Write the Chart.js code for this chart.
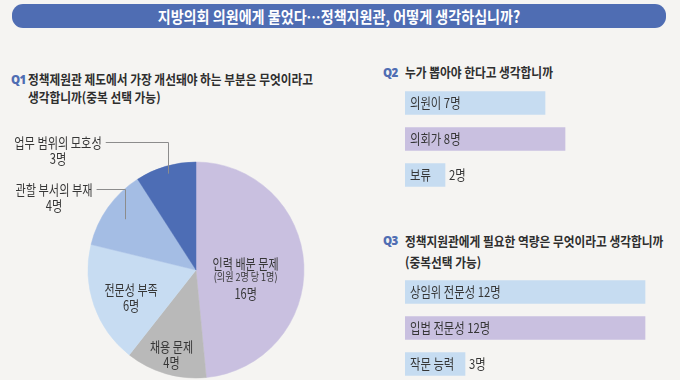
<!DOCTYPE html>
<html><head><meta charset="utf-8">
<script src="https://cdn.jsdelivr.net/npm/chart.js@4"></script>
<style>
html,body{margin:0;padding:0;}
body{width:680px;height:380px;background:#f5f4f2;position:relative;overflow:hidden;font-family:'Noto Sans CJK KR','Noto Sans',sans-serif;color:#333;}
.t{position:absolute;white-space:nowrap;transform-origin:0 50%;line-height:1;}
#bar{position:absolute;left:12px;top:4px;width:654px;height:24px;background:#4f6db3;border-radius:11px;}
#title{position:absolute;left:12px;top:4px;width:654px;height:24px;line-height:24px;text-align:center;color:#fff;font-size:16px;font-weight:700;white-space:nowrap;}
#title span{display:inline-block;transform:scaleX(0.88);}
.q{color:#4f6db3;font-weight:800;font-family:'Open Sans','Liberation Sans',sans-serif;font-size:11.5px;letter-spacing:-0.6px;}
.h{font-size:13px;font-weight:700;transform:scaleX(0.9);color:#2e2e2e;}
canvas{position:absolute;}
</style></head>
<body>
<div id="bar"></div>
<div id="title"><span>지방의회 의원에게 물었다…정책지원관, 어떻게 생각하십니까?</span></div>

<div class="t q" style="left:11px;top:73.5px;">Q1</div>
<div class="t h" style="left:28px;top:72px;">정책제원관 제도에서 가장 개선돼야 하는 부분은 무엇이라고</div>
<div class="t h" style="left:28px;top:90px;">생각합니까(중복 선택 가능)</div>

<div class="t q" style="left:383px;top:67px;">Q2</div>
<div class="t h" style="left:405px;top:65px;">누가 뽑아야 한다고 생각합니까</div>

<div class="t q" style="left:383px;top:235px;">Q3</div>
<div class="t h" style="left:405px;top:234px;">정책지원관에게 필요한 역량은 무엇이라고 생각합니까</div>
<div class="t h" style="left:405px;top:255px;">(중복선택 가능)</div>

<canvas id="pie" width="392" height="270" style="left:0;top:110px;"></canvas>
<canvas id="q2" width="260" height="108" style="left:405px;top:85px;"></canvas>
<canvas id="q3" width="260" height="108" style="left:405px;top:274px;"></canvas>

<script>
// ---- data ----
const pieLabels = ['인력 배분 문제', '채용 문제', '전문성 부족', '관할 부서의 부재', '업무 범위의 모호성'];
const pieValues = [16, 4, 6, 4, 3];
const pieNotes = ['(의원 2명 당 1명)', '', '', '', ''];
const q2Labels = ['의원이', '의회가', '보류'];
const q2Values = [7, 8, 2];
const q3Labels = ['상임위 전문성', '입법 전문성', '작문 능력'];
const q3Values = [12, 12, 3];
const unit = '명';

// ---- styles ----
const FONT = "'Noto Sans CJK KR','Noto Sans',sans-serif";
const TXT = '#363636';
const pieColors = ['#c9c0e0', '#b9b9b9', '#c7dcf2', '#a4bde4', '#4d6db5'];
const barColors = ['#c6dcf1', '#c9c0e0', '#c6dcf1'];
const pieLabelStyle = [
  {mode: 'in', rf: 0.46, dy: 11},
  {mode: 'in', rf: 0.806, dy: 1},
  {mode: 'in', rf: 0.636, dy: 5},
  {mode: 'out', rf: 0.81, tx: -142, ty: -80},
  {mode: 'out', rf: 0.93, tx: -138, ty: -127}
];

function txt(ctx, s, x, y, size, sx, align) {
  ctx.save();
  ctx.font = size + 'px ' + FONT;
  ctx.textBaseline = 'middle';
  ctx.fillStyle = TXT;
  ctx.textAlign = align || 'center';
  ctx.translate(x, y);
  ctx.scale(sx, 1);
  ctx.fillText(s, 0, 0);
  const w = ctx.measureText(s).width * sx;
  ctx.restore();
  return w;
}

const pieLabelPlugin = {
  id: 'pieLabels',
  afterDatasetsDraw(chart) {
    const ctx = chart.ctx;
    const arcs = chart.getDatasetMeta(0).data;
    arcs.forEach((arc, i) => {
      const st = pieLabelStyle[i];
      const cx = arc.x, cy = arc.y, R = arc.outerRadius;
      const mid = (arc.startAngle + arc.endAngle) / 2;
      const px = cx + Math.cos(mid) * R * st.rf;
      const py = cy + Math.sin(mid) * R * st.rf;
      const val = pieValues[i] + unit;
      if (st.mode === 'in') {
        const ay = py + st.dy;
        if (pieNotes[i]) {
          txt(ctx, pieLabels[i], px, ay - 15, 14, 0.79);
          txt(ctx, pieNotes[i], px, ay - 2, 11, 0.82);
          txt(ctx, val, px, ay + 15, 14, 0.79);
        } else {
          txt(ctx, pieLabels[i], px, ay - 8, 14, 0.79);
          txt(ctx, val, px, ay + 8, 14, 0.79);
        }
      } else {
        const lx = cx + st.tx, ly = cy + st.ty;
        const w = txt(ctx, pieLabels[i], lx, ly, 14, 0.8);
        txt(ctx, val, lx, ly + 16, 14, 0.8);
        const ex = Math.round(px) + 0.5;
        const ey = Math.round(ly - 1) + 0.5;
        ctx.save();
        ctx.strokeStyle = '#8c8c8c';
        ctx.lineWidth = 1;
        ctx.beginPath();
        ctx.moveTo(lx + w / 2 + 4, ey);
        ctx.lineTo(ex, ey);
        ctx.lineTo(ex, py);
        ctx.stroke();
        ctx.restore();
      }
    });
  }
};

new Chart(document.getElementById('pie'), {
  type: 'pie',
  data: {labels: pieLabels, datasets: [{data: pieValues, backgroundColor: pieColors, borderColor: pieColors, borderWidth: 0.5}]},
  options: {
    responsive: false, animation: false, devicePixelRatio: 1,
    radius: 108,
    layout: {padding: {top: 50, bottom: 0, left: 0, right: 0}},
    plugins: {legend: {display: false}, tooltip: {enabled: false}}
  },
  plugins: [pieLabelPlugin]
});

function makeBarLabelPlugin(labels, values) {
  return {
    id: 'barLabels',
    afterDatasetsDraw(chart) {
      const ctx = chart.ctx;
      chart.getDatasetMeta(0).data.forEach((bar, i) => {
        const start = Math.min(bar.base, bar.x);
        const end = Math.max(bar.base, bar.x);
        const full = labels[i] + ' ' + values[i] + unit;
        ctx.save();
        ctx.font = '13.5px ' + FONT;
        const fw = ctx.measureText(full).width * 0.84;
        ctx.restore();
        if (fw + 12 < end - start) {
          txt(ctx, full, start + 5, bar.y, 13.5, 0.84, 'left');
        } else {
          txt(ctx, labels[i], start + 5, bar.y, 13.5, 0.84, 'left');
          txt(ctx, values[i] + unit, end + 4, bar.y, 13.5, 0.84, 'left');
        }
      });
    }
  };
}

function barChart(id, labels, values) {
  new Chart(document.getElementById(id), {
    type: 'bar',
    data: {labels: labels, datasets: [{data: values, backgroundColor: barColors, borderWidth: 0, barThickness: 23}]},
    options: {
      indexAxis: 'y', responsive: false, animation: false, devicePixelRatio: 1,
      layout: {padding: 0},
      scales: {x: {display: false, min: 0, max: 13}, y: {display: false}},
      plugins: {legend: {display: false}, tooltip: {enabled: false}}
    },
    plugins: [makeBarLabelPlugin(labels, values)]
  });
}
barChart('q2', q2Labels, q2Values);
barChart('q3', q3Labels, q3Values);
</script>
</body></html>
